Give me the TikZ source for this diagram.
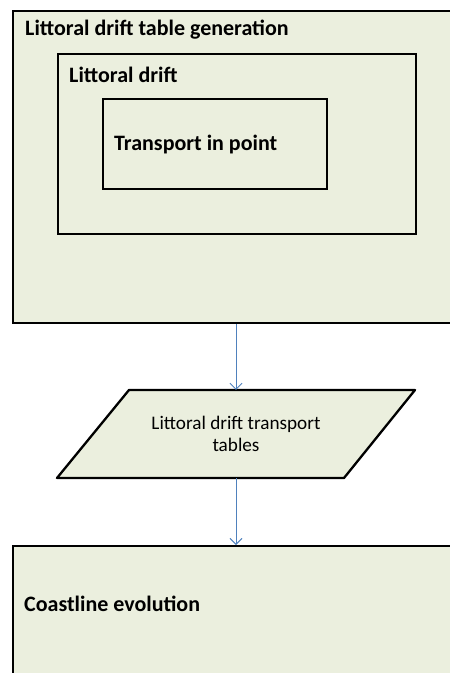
\documentclass[tikz,border=0pt]{standalone}
\usepackage{fontspec}
\setmainfont{Carlito}
\usetikzlibrary{arrows.meta,positioning}
\definecolor{boxfill}{RGB}{235,239,222}
\definecolor{arrowblue}{RGB}{79,129,189}
\tikzset{
  panel/.style={draw=black, line width=2.3pt, fill=boxfill, inner sep=0pt},
  title/.style={font=\bfseries\fontsize{22}{26}\selectfont, anchor=west, inner sep=0pt, text=black},
  flow/.style={draw=arrowblue, line width=0.9pt, -{Straight Barb[length=6pt,width=12pt,line width=0.9pt]}},
}
\begin{document}
\begin{tikzpicture}[x=1pt,y=-1pt]
\useasboundingbox (0,0) rectangle (450,673);
\clip (0,0) rectangle (450,673);
% outer box
\node[panel, minimum width=460pt, minimum height=312pt, anchor=north west] (gen) at (12,10) {};
\node[title] (gent) at (25,30) {Littoral drift table generation};
% middle box
\node[panel, minimum width=358pt, minimum height=180pt, anchor=north west] (drift) at (57,53) {};
\node[title] (driftt) at (69,75) {Littoral drift};
% inner box
\node[panel, minimum width=224pt, minimum height=90pt, anchor=north west] (tip) at (102,98) {};
\node[title] (tipt) at (114,145) {Transport in point};
% parallelogram
\coordinate (p1) at (129,390);
\coordinate (p2) at (415,390);
\coordinate (p3) at (344,478);
\coordinate (p4) at (57,478);
\draw[line width=2.3pt, fill=boxfill, line join=round] (p1) -- (p2) -- (p3) -- (p4) -- cycle;
\node[minimum width=200pt, minimum height=88pt, inner sep=0pt, align=center,
      font=\fontsize{19.2}{22}\selectfont] (tab) at (236,434) {Littoral drift transport\\tables};
% bottom box
\node[panel, minimum width=460pt, minimum height=140pt, anchor=north west] (coast) at (12,545) {};
\node[title] (coastt) at (24,604) {Coastline evolution};
% connectors
\draw[flow] (gen.south -| tab.north) -- (tab.north);
\draw[flow] (tab.south) -- (coast.north -| tab.south);
\end{tikzpicture}
\end{document}
